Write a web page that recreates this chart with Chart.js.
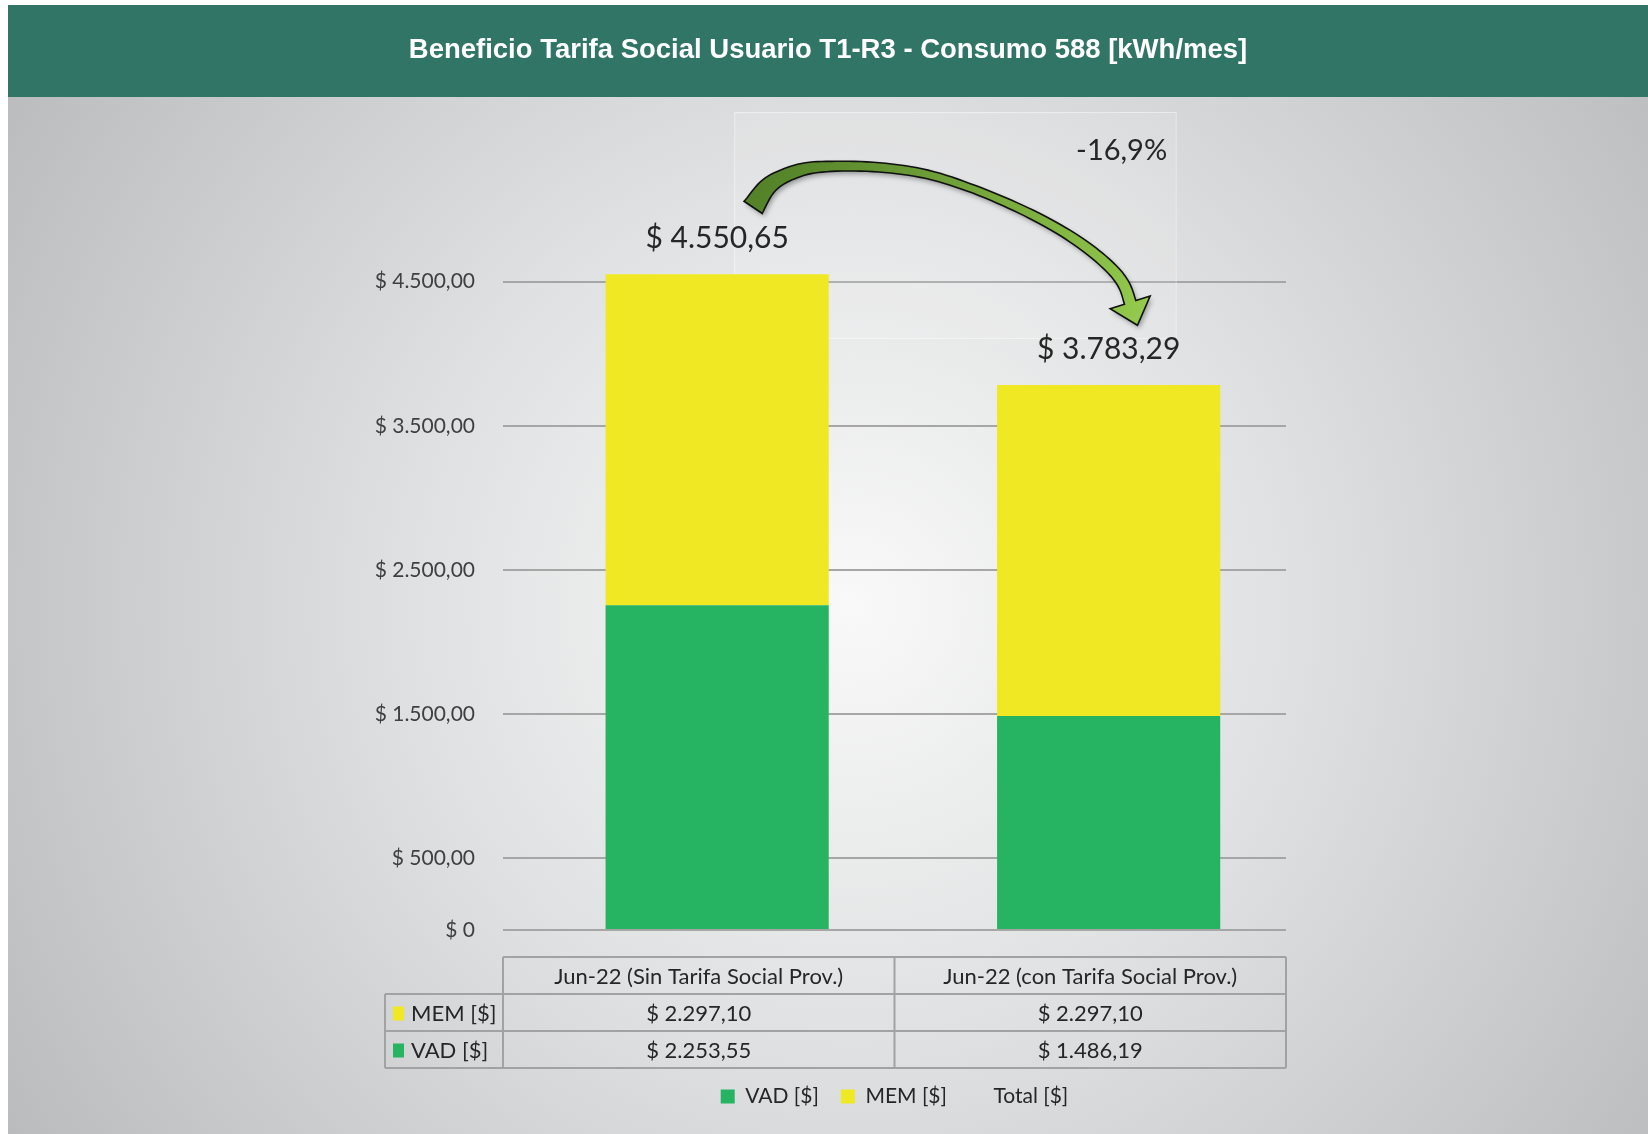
<!DOCTYPE html>
<html>
<head>
<meta charset="utf-8">
<title>Beneficio Tarifa Social</title>
<script src="https://cdn.jsdelivr.net/npm/chart.js@4.4.0/dist/chart.umd.min.js"></script>
<style>
  html, body { margin: 0; padding: 0; background: #fff; }
  #wrap { position: absolute; left: 8px; top: 5px; width: 1640px; height: 1129px; }
</style>
</head>
<body>
<div id="wrap"><canvas id="chart"></canvas></div>
<script>
// datos del grafico
const categories = ["Jun-22 (Sin Tarifa Social Prov.)", "Jun-22 (con Tarifa Social Prov.)"];
const vadValues = [2253.55, 1486.19];
const memValues = [2297.10, 2297.10];
const totalValues = [4550.65, 3783.29];
const tickValues = [0, 500, 1500, 2500, 3500, 4500];
const seriesNames = ["VAD [$]", "MEM [$]", "Total [$]"];
const titleText = "Beneficio Tarifa Social Usuario T1-R3 - Consumo 588 [kWh/mes]";

const GREEN = "#26b462";
const YELLOW = "#efe822";
const TEXT = "#262626";
const FONT = "Lato";

// formato $ 1.234,56
function money(v) {
  if (v === 0) return "$ 0";
  const parts = v.toFixed(2).split(".");
  return "$ " + parts[0].replace(/\B(?=(\d{3})+(?!\d))/g, ".") + "," + parts[1];
}

const xy = (arr) => arr.map((v, i) => ({ x: i, y: v }));

// fondo gris con degradado + franja verde del titulo
const backgroundPlugin = {
  id: "background",
  beforeDraw(chart) {
    const { ctx, width, height } = chart;
    ctx.save();
    const g = ctx.createRadialGradient(843, 600, 0, 843, 600, 1000);
    g.addColorStop(0, "#f9f9f9");
    g.addColorStop(0.45, "#dfe0e1");
    g.addColorStop(1, "#b9bbbd");
    ctx.fillStyle = g;
    ctx.fillRect(0, 0, width, height);
    ctx.fillStyle = "#317566";
    ctx.fillRect(0, 0, width, 92);
    ctx.restore();
  },
};

// recuadro detras de la flecha
const boxPlugin = {
  id: "arrowBox",
  beforeDatasetsDraw(chart) {
    const { ctx } = chart;
    const bars = chart.getDatasetMeta(0).data;
    const x0 = bars[0].x + 17;
    const x1 = bars[1].x + 67;
    ctx.save();
    ctx.fillStyle = "rgba(255,255,255,0.12)";
    ctx.strokeStyle = "rgba(255,255,255,0.45)";
    ctx.lineWidth = 1;
    ctx.fillRect(x0, 107, x1 - x0, 226);
    ctx.strokeRect(x0 + 0.5, 107.5, x1 - x0, 226);
    ctx.restore();
  },
};

function catmull(pts, steps) {
  const out = [];
  for (let i = 0; i < pts.length - 1; i++) {
    const p0 = pts[Math.max(i - 1, 0)], p1 = pts[i], p2 = pts[i + 1], p3 = pts[Math.min(i + 2, pts.length - 1)];
    for (let s = 0; s < steps; s++) {
      const t = s / steps, t2 = t * t, t3 = t2 * t;
      const f = (k) => 0.5 * (2 * p1[k] + (-p0[k] + p2[k]) * t +
        (2 * p0[k] - 5 * p1[k] + 4 * p2[k] - p3[k]) * t2 +
        (-p0[k] + 3 * p1[k] - 3 * p2[k] + p3[k]) * t3);
      out.push([f(0), f(1)]);
    }
  }
  out.push(pts[pts.length - 1]);
  return out;
}

function widthAt(t) {
  const stops = [[0, 22], [0.12, 14], [0.25, 10], [0.5, 8], [0.8, 11], [1, 12]];
  for (let i = 1; i < stops.length; i++) {
    if (t <= stops[i][0]) {
      const [t0, w0] = stops[i - 1], [t1, w1] = stops[i];
      return w0 + (w1 - w0) * (t - t0) / (t1 - t0);
    }
  }
  return 12;
}

function drawArrow(ctx, ox, oy) {
  const rel = [[36, -67], [53, -90], [82, -104], [114, -108], [162, -107], [210, -100],
    [257, -85], [304, -65], [342, -45], [372, -25], [395, -5], [407, 11], [413, 28]];
  const pts = catmull(rel.map(([dx, dy]) => [ox + dx, oy + dy]), 8);
  const n = pts.length;
  const left = [], right = [];
  let tx = 0, ty = 0, nx = 0, ny = 0;
  for (let i = 0; i < n; i++) {
    const a = pts[Math.max(i - 1, 0)], b = pts[Math.min(i + 1, n - 1)];
    tx = b[0] - a[0]; ty = b[1] - a[1];
    const len = Math.hypot(tx, ty);
    tx /= len; ty /= len;
    nx = -ty; ny = tx;
    const w = widthAt(i / (n - 1)) / 2;
    left.push([pts[i][0] + nx * w, pts[i][1] + ny * w]);
    right.push([pts[i][0] - nx * w, pts[i][1] - ny * w]);
  }
  const end = pts[n - 1];
  ctx.save();
  ctx.beginPath();
  left.forEach((p, i) => (i ? ctx.lineTo(p[0], p[1]) : ctx.moveTo(p[0], p[1])));
  ctx.lineTo(end[0] + nx * 21, end[1] + ny * 21);
  ctx.lineTo(end[0] + tx * 24, end[1] + ty * 24);
  ctx.lineTo(end[0] - nx * 21, end[1] - ny * 21);
  for (let i = n - 1; i >= 0; i--) ctx.lineTo(right[i][0], right[i][1]);
  ctx.closePath();
  const g = ctx.createLinearGradient(ox + 35, oy - 110, ox + 420, oy + 50);
  g.addColorStop(0, "#527f28");
  g.addColorStop(1, "#93c94c");
  ctx.shadowColor = "rgba(0,0,0,0.35)";
  ctx.shadowBlur = 5;
  ctx.shadowOffsetX = 2;
  ctx.shadowOffsetY = 3;
  ctx.fillStyle = g;
  ctx.fill();
  ctx.shadowColor = "transparent";
  ctx.strokeStyle = "#111";
  ctx.lineWidth = 1.6;
  ctx.stroke();
  ctx.restore();
}

// etiquetas de total, flecha y porcentaje
const overlayPlugin = {
  id: "overlay",
  afterDatasetsDraw(chart) {
    const { ctx } = chart;
    const totals = chart.getDatasetMeta(2).data;
    const bars = chart.getDatasetMeta(0).data;
    ctx.save();
    ctx.fillStyle = TEXT;
    ctx.font = `30px ${FONT}`;
    ctx.textAlign = "center";
    ctx.textBaseline = "middle";
    totals.forEach((pt, i) => {
      ctx.fillText(money(totalValues[i]), pt.x, pt.y - 36);
    });
    const pct = (totalValues[1] / totalValues[0] - 1) * 100;
    ctx.font = `29px ${FONT}`;
    ctx.fillText(pct.toFixed(1).replace(".", ",") + "%", bars[1].x + 13, 146);
    ctx.restore();
    drawArrow(ctx, bars[0].x, totals[0].y);
  },
  // tabla de datos debajo del eje
  afterDraw(chart) {
    const { ctx, chartArea } = chart;
    const { left, right, bottom } = chartArea;
    const colW = (right - left) / categories.length;
    const top = bottom + 27;
    const rowH = 37;
    const keyLeft = left - 118;
    const rows = [
      { name: seriesNames[1], color: YELLOW, values: memValues },
      { name: seriesNames[0], color: GREEN, values: vadValues },
    ];
    const nRows = rows.length + 1;
    ctx.save();
    ctx.strokeStyle = "#a2a2a2";
    ctx.lineWidth = 2;
    ctx.beginPath();
    ctx.moveTo(left, top); ctx.lineTo(right, top);
    for (let r = 1; r <= nRows; r++) {
      ctx.moveTo(keyLeft, top + rowH * r); ctx.lineTo(right, top + rowH * r);
    }
    ctx.moveTo(keyLeft, top + rowH); ctx.lineTo(keyLeft, top + rowH * nRows);
    for (let c = 0; c <= categories.length; c++) {
      ctx.moveTo(left + colW * c, top); ctx.lineTo(left + colW * c, top + rowH * nRows);
    }
    ctx.stroke();

    ctx.fillStyle = TEXT;
    ctx.font = `22px ${FONT}`;
    ctx.textBaseline = "middle";
    ctx.textAlign = "center";
    const colX = (i) => left + colW * (i + 0.5);
    categories.forEach((c, i) => ctx.fillText(c, colX(i), top + rowH / 2 + 1));
    rows.forEach((row, r) => {
      const cy = top + rowH * (r + 1.5) + 1;
      row.values.forEach((v, i) => ctx.fillText(money(v), colX(i), cy));
      ctx.fillStyle = row.color;
      ctx.fillRect(keyLeft + 8, cy - 7, 11, 14);
      ctx.fillStyle = TEXT;
      ctx.textAlign = "left";
      ctx.fillText(row.name, keyLeft + 26, cy);
      ctx.textAlign = "center";
    });
    ctx.restore();
  },
};

const chart = new Chart(document.getElementById("chart"), {
  data: {
    datasets: [
      {
        type: "bar", label: seriesNames[0], data: xy(vadValues), backgroundColor: GREEN,
        stack: "cost", barPercentage: 0.57, categoryPercentage: 1, borderWidth: 0,
      },
      {
        type: "bar", label: seriesNames[1], data: xy(memValues), backgroundColor: YELLOW,
        stack: "cost", barPercentage: 0.57, categoryPercentage: 1, borderWidth: 0,
      },
      {
        type: "line", label: seriesNames[2], data: xy(totalValues), stack: "total",
        showLine: false, pointRadius: 0, borderWidth: 0,
        backgroundColor: "rgba(0,0,0,0)", borderColor: "rgba(0,0,0,0)",
      },
    ],
  },
  options: {
    responsive: true,
    maintainAspectRatio: false,
    animation: false,
    layout: { padding: { top: 0, left: 0, right: 0, bottom: 17 } },
    scales: {
      x: {
        type: "linear",
        offset: false,
        min: -0.547,
        max: 1.453,
        afterBuildTicks(s) { s.ticks = categories.map((c, i) => ({ value: i })); },
        grid: { display: false, offset: false },
        border: { display: false },
        ticks: { display: false },
        afterFit(s) { s.height = 134; },
      },
      y: {
        stacked: true,
        min: 0,
        max: 5400,
        afterBuildTicks(s) { s.ticks = tickValues.map((v) => ({ value: v })); },
        grid: { color: "#a6a6a6", lineWidth: 2, drawTicks: false },
        border: { display: false },
        ticks: {
          padding: 28,
          color: "#404040",
          font: { family: FONT, size: 21 },
          callback: (v) => money(v),
        },
        afterFit(s) { s.width = 495; },
      },
      // espacio vacio a la derecha del grafico
      right: {
        position: "right",
        grid: { display: false },
        border: { display: false },
        ticks: { display: false },
        afterFit(s) { s.width = 362; },
      },
    },
    plugins: {
      title: {
        display: true,
        text: titleText,
        color: "#ffffff",
        font: { family: "Liberation Sans", size: 27.5, weight: "bold" },
        padding: { top: 29, bottom: 85 },
      },
      legend: {
        position: "bottom",
        fullSize: false,
        labels: {
          boxWidth: 14,
          boxHeight: 14,
          padding: 22,
          color: TEXT,
          font: { family: FONT, size: 21 },
        },
      },
      tooltip: { enabled: false },
    },
  },
  plugins: [backgroundPlugin, boxPlugin, overlayPlugin],
});
</script>
</body>
</html>
